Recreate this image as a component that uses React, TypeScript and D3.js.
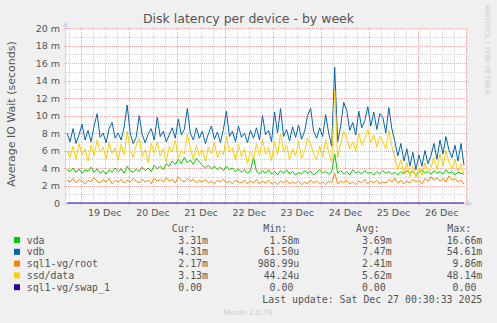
import React from 'react';
import * as d3 from 'd3';

const W = 497;
const H = 323;

// ---- data (values in milliseconds) ----
const seriesNames = ['vda', 'vdb', 'sql1-vg/root', 'ssd/data', 'sql1-vg/swap_1'];
const seriesColors = ['#00cc00', '#0066b3', '#ff8000', '#ffcc00', '#330099'];
const curText = ['3.31m', '4.31m', '2.17m', '3.13m', '0.00 '];
const minText = ['1.58m', '61.50u', '988.99u', '44.24u', '0.00 '];
const avgText = ['3.69m', '7.47m', '2.41m', '5.62m', '0.00 '];
const maxText = ['16.66m', '54.61m', '9.86m', '48.14m', '0.00 '];
const yTickValues = [0, 2, 4, 6, 8, 10, 12, 14, 16, 18, 20];
const dayLabels = ['19 Dec', '20 Dec', '21 Dec', '22 Dec', '23 Dec', '24 Dec', '25 Dec', '26 Dec'];
const dayLabelDates = [19, 20, 21, 22, 23, 24, 25, 26];

const vdaValues = [
  3.8, 3.6, 4.0, 3.5, 3.9, 3.4, 3.8, 3.6, 4.1, 3.5, 3.9, 3.4, 3.7, 3.3, 3.8, 3.5, 4.0, 3.6, 3.9, 3.4,
  4.2, 3.7, 3.5, 3.9, 3.6, 4.1, 3.7, 4.0, 3.6, 4.3, 3.9, 4.2, 3.8, 4.5, 4.2, 4.8, 4.4, 5.0, 4.5, 5.2,
  4.6, 4.9, 4.4, 5.1, 4.7, 4.3, 4.0, 4.3, 3.9, 4.2, 3.8, 4.1, 3.7, 4.2, 3.8, 4.0, 3.6, 3.9, 3.5, 3.8,
  3.4, 3.7, 5.2, 3.6, 3.3, 3.7, 3.4, 3.8, 3.3, 3.6, 3.2, 3.7, 3.4, 3.8, 3.3, 3.6, 3.2, 3.5, 3.3, 3.7,
  3.4, 3.6, 3.2, 3.5, 3.8, 3.4, 3.6, 3.3, 3.5, 5.6, 3.4, 3.7, 3.3, 3.6, 3.2, 3.8, 3.4, 3.6, 3.3, 3.7,
  3.4, 3.5, 3.2, 3.6, 3.3, 3.7, 3.4, 3.6, 3.3, 3.5, 3.2, 3.6, 3.3, 3.7, 3.4, 3.6, 3.2, 3.5, 3.8, 3.4,
  3.6, 3.3, 3.7, 3.4, 3.6, 3.3, 3.8, 3.4, 3.6, 3.2, 3.5, 3.4, 3.31,
];
const vdbValues = [
  8.0, 7.0, 8.5, 6.8, 7.8, 9.0, 7.2, 8.3, 7.0, 8.8, 10.2, 7.5, 8.0, 6.9, 8.5, 9.2, 7.4, 8.0, 7.2, 8.7,
  11.2, 8.0, 6.8, 7.5, 10.0, 7.8, 6.9, 7.9, 8.5, 7.2, 9.8, 7.6, 8.2, 7.0, 7.8, 8.6, 7.4, 9.6, 7.8, 8.4,
  10.8, 8.0, 7.2, 8.6, 7.4, 8.2, 6.8, 7.9, 8.8, 7.3, 8.1, 6.9, 8.4, 10.5, 7.6, 8.2, 7.0, 8.8, 7.5, 8.0,
  6.9, 8.3, 7.4, 8.6, 7.2, 10.0, 7.8, 8.3, 7.0, 10.4, 8.0, 10.8, 7.6, 8.4, 7.1, 8.7, 7.5, 8.9, 7.3, 8.2,
  10.0, 10.8, 8.2, 7.4, 8.6, 7.6, 10.1, 8.0, 6.5, 15.5, 7.0, 8.8, 11.5, 10.6, 8.3, 9.2, 7.8, 10.5, 8.6, 9.4,
  11.0, 8.8, 10.4, 8.4, 10.2, 9.8, 8.0, 10.9, 8.5, 7.0, 5.4, 6.8, 4.8, 6.2, 4.2, 5.8, 3.8, 5.5, 4.2, 6.0,
  4.5, 5.4, 6.8, 5.0, 7.2, 5.6, 7.6, 6.0, 5.2, 6.6, 4.8, 6.8, 4.31,
];
const rootValues = [
  2.6, 2.4, 2.8, 2.3, 2.7, 2.5, 2.2, 2.6, 2.4, 2.9, 2.5, 2.3, 2.7, 2.4, 2.8, 2.2, 2.6, 2.4, 2.7, 2.3,
  2.6, 2.4, 2.8, 2.5, 2.3, 2.7, 2.4, 2.6, 2.2, 2.8, 2.5, 2.7, 2.4, 2.9, 2.5, 2.7, 2.3, 3.0, 2.6, 2.4,
  2.8, 2.5, 2.7, 2.3, 2.6, 2.4, 2.7, 2.3, 2.5, 2.2, 2.6, 2.4, 2.7, 2.3, 2.5, 2.2, 2.6, 2.4, 2.3, 2.6,
  2.2, 2.5, 2.3, 2.7, 2.2, 2.5, 2.3, 2.6, 2.2, 2.4, 2.1, 2.5, 2.3, 2.6, 2.2, 2.4, 2.2, 2.5, 2.1, 2.4,
  2.2, 2.6, 2.3, 2.5, 2.2, 2.4, 2.1, 2.5, 2.3, 3.4, 2.2, 2.5, 2.3, 2.6, 2.2, 2.4, 2.1, 2.5, 2.3, 2.7,
  2.2, 2.5, 2.3, 2.6, 2.2, 2.4, 2.3, 2.7, 2.4, 2.8, 2.3, 2.6, 2.2, 2.5, 2.3, 2.7, 2.4, 2.6, 2.2, 2.8,
  2.5, 3.0, 2.6, 2.9, 2.5, 2.8, 2.4, 3.1, 2.6, 2.8, 2.4, 2.6, 2.17,
];
const ssdValues = [
  6.0, 5.2, 6.5, 5.0, 6.8, 5.5, 6.2, 4.8, 6.6, 5.4, 7.2, 5.8, 6.4, 5.0, 6.9, 5.6, 6.3, 4.9, 6.7, 5.5,
  8.2, 6.0, 5.2, 6.6, 7.4, 5.3, 6.1, 4.6, 6.8, 5.7, 7.0, 5.4, 6.2, 4.7, 6.5, 5.8, 7.2, 5.1, 6.0, 5.6,
  7.8, 6.3, 5.0, 6.6, 5.4, 6.1, 4.8, 6.4, 5.6, 6.9, 5.2, 6.0, 5.5, 7.6, 5.8, 6.3, 4.9, 6.7, 5.3, 6.2,
  4.5, 5.9, 5.0, 6.8, 5.4, 7.3, 5.6, 6.4, 4.8, 7.0, 5.5, 8.0, 5.9, 6.6, 5.0, 6.2, 5.4, 7.1, 5.1, 6.0,
  7.4, 6.8, 5.6, 4.9, 6.5, 5.3, 7.2, 5.8, 4.6, 12.9, 5.2, 6.8, 8.2, 7.4, 6.2, 7.0, 5.9, 8.0, 6.6, 7.3,
  8.4, 6.9, 7.8, 6.4, 7.6, 7.0, 6.2, 8.3, 6.5, 5.2, 3.8, 4.9, 3.4, 4.6, 3.0, 4.2, 2.9, 4.0, 3.2, 4.6,
  3.5, 4.0, 5.2, 3.8, 5.6, 4.2, 6.0, 4.6, 3.9, 5.0, 3.6, 4.5, 3.13,
];
const swapValues = vdaValues.map(() => 0);
const seriesValues = [vdaValues, vdbValues, rootValues, ssdValues, swapValues];

// ---- time ----
const MIN = 60 * 1000;
const HOUR = 60 * MIN;
const tStart = Date.UTC(2025, 11, 18, 16, 40);
const tEnd = Date.UTC(2025, 11, 27, 0, 9);
const sampleTimes = vdaValues.map((_, i) => tStart + 30 * MIN + i * 90 * MIN);

// ---- layout ----
const plotLeft = 66;
const plotRight = 466;
const plotTop = 28;
const plotBottom = 203;

const x = d3.scaleUtc().domain([new Date(tStart), new Date(tEnd)]).range([plotLeft, plotRight]);
const y = d3.scaleLinear().domain([0, 20]).range([plotBottom, plotTop]);

const minorTimes = d3.utcHour.every(6)!.range(new Date(tStart), new Date(tEnd));
const majorTimes = d3.utcDay.range(new Date(tStart), new Date(tEnd + HOUR));
const minorY = d3.range(1, 20, 2);

const sansFont = "'DejaVu Sans', Verdana, sans-serif";
const monoFont = "'DejaVu Sans Mono', monospace";
const textColor = '#555555';

export default function App() {
  const line = d3
    .line<number>()
    .x((_, i) => x(new Date(sampleTimes[i])))
    .y((v) => y(v));

  const rowBase = (r: number) => 243.6 + r * 11.8;

  return (
    <svg
      width={W}
      height={H}
      style={{ position: 'absolute', left: 0, top: 0, display: 'block' }}
      xmlns="http://www.w3.org/2000/svg"
    >
      <rect x={0} y={0} width={W} height={H} fill="#f0f0f0" />
      <rect x={plotLeft} y={plotTop} width={plotRight - plotLeft} height={plotBottom - plotTop} fill="#ffffff" />

      {/* minor grid */}
      <g stroke="#d4d4d4" strokeWidth={1} strokeDasharray="1 1" shapeRendering="crispEdges">
        {minorTimes
          .filter((d) => d.getUTCHours() !== 0)
          .map((d, i) => (
            <line key={'mv' + i} x1={Math.round(x(d)) + 0.5} x2={Math.round(x(d)) + 0.5} y1={plotTop} y2={plotBottom} />
          ))}
        {minorY.map((v) => (
          <line key={'mh' + v} x1={plotLeft} x2={plotRight} y1={Math.round(y(v)) + 0.5} y2={Math.round(y(v)) + 0.5} />
        ))}
      </g>
      {/* major grid */}
      <g stroke="#eeaaaa" strokeWidth={1} strokeDasharray="1 1" shapeRendering="crispEdges">
        {majorTimes.map((d, i) => (
          <line key={'Mv' + i} x1={Math.round(x(d)) + 0.5} x2={Math.round(x(d)) + 0.5} y1={plotTop} y2={plotBottom + 3} />
        ))}
        {yTickValues
          .filter((v) => v > 0)
          .map((v) => (
            <line key={'Mh' + v} x1={plotLeft - 2} x2={plotRight + 1} y1={Math.round(y(v)) + 0.5} y2={Math.round(y(v)) + 0.5} />
          ))}
      </g>

      {/* axes */}
      <g stroke="#cfd6f8" strokeWidth={1} shapeRendering="crispEdges">
        <line x1={plotLeft - 0.5} x2={plotLeft - 0.5} y1={plotTop - 4} y2={plotBottom + 3} />
        <line x1={plotLeft - 3} x2={plotRight + 3} y1={plotBottom + 0.5} y2={plotBottom + 0.5} />
      </g>
      <path
        d={`M${plotLeft - 3.5},${plotTop - 1} L${plotLeft - 0.5},${plotTop - 7} L${plotLeft + 2.5},${plotTop - 1} Z`}
        fill="#cfd6f8"
      />
      <path
        d={`M${plotRight + 1},${plotBottom - 2.5} L${plotRight + 7},${plotBottom + 0.5} L${plotRight + 1},${plotBottom + 3.5} Z`}
        fill="#cfd6f8"
      />

      {/* data */}
      <g fill="none" strokeWidth={1} strokeLinejoin="round">
        {seriesValues.map((vals, s) => (
          <path key={seriesNames[s]} d={line(vals) || ''} stroke={seriesColors[s]} />
        ))}
      </g>

      {/* y tick labels */}
      <g fontFamily={sansFont} fontSize={9.5} fill={textColor} textAnchor="end">
        {yTickValues.map((v) => (
          <text key={'yl' + v} x={60} y={y(v) + 3.5}>
            {v === 0 ? '0' : `${v} m`}
          </text>
        ))}
      </g>
      {/* x labels */}
      <g fontFamily={sansFont} fontSize={9.5} fill={textColor} textAnchor="middle">
        {dayLabels.map((lab, i) => (
          <text key={lab} x={x(new Date(Date.UTC(2025, 11, dayLabelDates[i], 12)))} y={216}>
            {lab}
          </text>
        ))}
      </g>

      {/* title */}
      <text x={248.5} y={23} fontFamily={sansFont} fontSize={12.5} fill={textColor} textAnchor="middle">
        Disk latency per device - by week
      </text>
      {/* y axis title */}
      <text
        transform={`translate(14.5,114) rotate(-90)`}
        fontFamily={sansFont}
        fontSize={11}
        fill={textColor}
        textAnchor="middle"
      >
        Average IO Wait (seconds)
      </text>
      {/* rrdtool watermark */}
      <text
        transform={`translate(484.5,5) rotate(90)`}
        fontFamily={sansFont}
        fontSize={7}
        fill="#cccccc"
        textAnchor="start"
      >
        RRDTOOL / TOBI OETIKER
      </text>

      {/* legend */}
      <g fontFamily={monoFont} fontSize={9.9} fill={textColor} style={{ whiteSpace: 'pre' }}>
        <text x={171.7} y={231.8}>Cur:</text>
        <text x={263.3} y={231.8}>Min:</text>
        <text x={356} y={231.8}>Avg:</text>
        <text x={447.3} y={231.8}>Max:</text>
        {seriesNames.map((name, r) => (
          <g key={'lg' + name}>
            <rect x={14} y={rowBase(r) - 6.6} width={6} height={6} fill={seriesColors[r]} />
            <text x={26.7} y={rowBase(r)}>{name}</text>
            <text x={208} y={rowBase(r)} textAnchor="end" xmlSpace="preserve">{curText[r]}</text>
            <text x={299.3} y={rowBase(r)} textAnchor="end" xmlSpace="preserve">{minText[r]}</text>
            <text x={391.7} y={rowBase(r)} textAnchor="end" xmlSpace="preserve">{avgText[r]}</text>
            <text x={482.3} y={rowBase(r)} textAnchor="end" xmlSpace="preserve">{maxText[r]}</text>
          </g>
        ))}
        <text x={482.3} y={rowBase(5)} textAnchor="end">
          Last update: Sat Dec 27 00:30:33 2025
        </text>
      </g>
      <text x={248} y={314.5} fontFamily={sansFont} fontSize={7.5} fill="#cccccc" textAnchor="middle">
        Munin 2.0.76
      </text>
    </svg>
  );
}
